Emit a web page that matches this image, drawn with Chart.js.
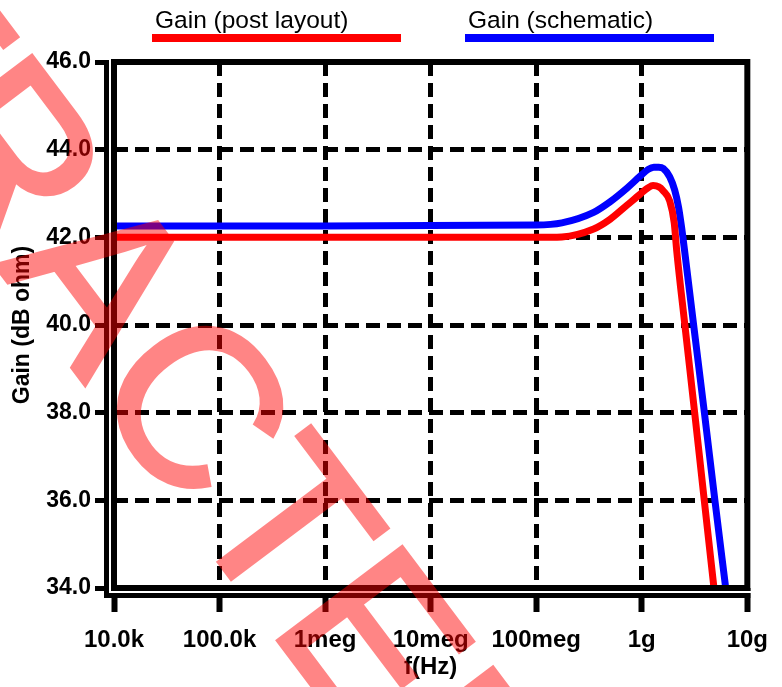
<!DOCTYPE html>
<html>
<head>
<meta charset="utf-8">
<title>Gain vs frequency</title>
<script src="https://cdn.jsdelivr.net/npm/chart.js@4.4.0/dist/chart.umd.min.js"></script>
<style>
  html, body { margin: 0; padding: 0; background: #fff; }
  #wrap { width: 782px; height: 687px; }
</style>
</head>
<body>
<div id="wrap"><canvas id="c" width="782" height="687"></canvas></div>
<script>
const FONT = "'Liberation Sans', Arial, Helvetica, sans-serif";

// AC sweep: frequency (Hz) and transimpedance gain (dB ohm)
const freqPost  = [1e4, 1e6, 1e8, 1.75e8, 3.5e8, 5e8, 7.3e8, 9.7e8, 1.15e9, 1.28e9, 1.45e9, 1.585e9, 1.84e9, 2.03e9, 2.14e9, 2.56e9, 3.17e9, 3.91e9, 4.83e9];
const gainPost  = [42.0, 42.0, 42.0, 42.01, 42.19, 42.41, 42.74, 42.99, 43.13, 43.18, 43.15, 43.07, 42.83, 42.33, 41.71, 40.0, 38.0, 36.0, 34.0];
const freqSchem = [1e4, 1e6, 1e8, 1.75e8, 3.5e8, 5e8, 7.3e8, 9.7e8, 1.15e9, 1.3e9, 1.45e9, 1.6e9, 1.84e9, 2.05e9, 2.23e9, 2.38e9, 2.54e9, 3.1e9, 3.92e9, 4.93e9, 6.24e9];
const gainSchem = [42.26, 42.26, 42.28, 42.33, 42.57, 42.81, 43.13, 43.40, 43.55, 43.6, 43.6, 43.57, 43.38, 43.08, 42.69, 42.24, 41.71, 40.0, 38.0, 36.0, 34.0];

// Axis ticks (decades, SPICE-style suffixes) and gain grid
const freqTicks  = [1e4, 1e5, 1e6, 1e7, 1e8, 1e9, 1e10];
const freqLabels = ['10.0k', '100.0k', '1meg', '10meg', '100meg', '1g', '10g'];
const gainTicks  = [34, 36, 38, 40, 42, 44, 46];

const seriesNames  = ['Gain (post layout)', 'Gain (schematic)'];
const seriesColors = ['#ff0000', '#0000ff'];
const axisTitleX = 'f(Hz)';
const axisTitleY = 'Gain (dB ohm)';
const stampText  = 'RETRACTED';

const toPoints = (fs, gs) => fs.map((f, i) => ({ x: f, y: gs[i] }));

// Heavy plot frame plus the separate outer axis rails
const framePlugin = {
  id: 'frame',
  afterDatasetsDraw(chart) {
    const { ctx, chartArea: a } = chart;
    ctx.save();
    ctx.fillStyle = '#fff';
    ctx.fillRect(a.left - 5, a.top - 3, 2, a.bottom - a.top + 12);
    ctx.fillRect(a.left - 5, a.bottom + 3, a.right - a.left + 12, 2);
    ctx.strokeStyle = '#000';
    ctx.lineWidth = 6;
    ctx.strokeRect(a.left, a.top, a.right - a.left, a.bottom - a.top);
    ctx.lineWidth = 5;
    ctx.beginPath();
    ctx.moveTo(a.left - 7.5, a.top);
    ctx.lineTo(a.left - 7.5, a.bottom + 10);
    ctx.moveTo(a.left - 10, a.bottom + 7.5);
    ctx.lineTo(a.right + 3, a.bottom + 7.5);
    ctx.stroke();
    ctx.restore();
  }
};

// Legend: label text with a thick coloured bar beneath it
const legendPlugin = {
  id: 'barLegend',
  afterDraw(chart) {
    const { ctx } = chart;
    const starts = [152, 465];
    const barLen = 249;
    ctx.save();
    chart.data.datasets.forEach((ds, i) => {
      ctx.font = `24.5px ${FONT}`;
      ctx.fillStyle = '#000';
      ctx.textAlign = 'left';
      ctx.textBaseline = 'alphabetic';
      ctx.fillText(ds.label, starts[i] + 3, 28);
      ctx.strokeStyle = ds.borderColor;
      ctx.lineWidth = 8;
      ctx.beginPath();
      ctx.moveTo(starts[i], 38);
      ctx.lineTo(starts[i] + barLen, 38);
      ctx.stroke();
    });
    ctx.restore();
  }
};

// Diagonal translucent stamp across the figure (rendered opaque off-screen, then blended once)
const stampPlugin = {
  id: 'stamp',
  afterDraw(chart) {
    const { ctx, width, height } = chart;
    const off = document.createElement('canvas');
    off.width = width;
    off.height = height;
    const o = off.getContext('2d');
    o.translate(40, 325);
    o.rotate(53 * Math.PI / 180);
    o.font = `226px ${FONT}`;
    o.fillStyle = '#ff0000';
    o.strokeStyle = '#ff0000';
    o.lineWidth = 4;
    o.lineJoin = 'miter';
    o.textAlign = 'center';
    o.textBaseline = 'alphabetic';
    o.fillText(stampText, 0, 0);
    o.strokeText(stampText, 0, 0);
    ctx.save();
    ctx.globalAlpha = 0.48;
    ctx.drawImage(off, 0, 0);
    ctx.restore();
  }
};

const gridCommon = { color: '#000', lineWidth: 5, drawOnChartArea: true, drawTicks: true, tickColor: '#000' };

new Chart(document.getElementById('c'), {
  type: 'line',
  data: {
    datasets: [
      { label: seriesNames[0], data: toPoints(freqPost, gainPost), borderColor: seriesColors[0] },
      { label: seriesNames[1], data: toPoints(freqSchem, gainSchem), borderColor: seriesColors[1] }
    ]
  },
  options: {
    responsive: false,
    animation: false,
    devicePixelRatio: 1,
    events: [],
    layout: { padding: { top: 62, right: 23, bottom: 0, left: 0 } },
    elements: {
      line: { borderWidth: 7, fill: false, cubicInterpolationMode: 'monotone', borderCapStyle: 'butt' },
      point: { radius: 0 }
    },
    plugins: { legend: { display: false }, tooltip: { enabled: false }, title: { display: false } },
    scales: {
      x: {
        type: 'logarithmic',
        min: 1e4, max: 1e10,
        afterBuildTicks: s => { s.ticks = freqTicks.map(v => ({ value: v })); },
        afterFit: s => { s.height = 99; },
        grid: { ...gridCommon, tickLength: 24, tickWidth: 6 },
        border: { display: false, dash: [14, 7] },
        ticks: {
          callback: (v, i) => freqLabels[i],
          font: { family: FONT, size: 24, weight: 'bold' },
          color: '#000', padding: 14, maxRotation: 0, autoSkip: false
        },
        title: {
          display: true, text: axisTitleX, color: '#000',
          font: { family: FONT, size: 24, weight: 'bold' },
          padding: { top: 0, bottom: 5 }
        }
      },
      y: {
        type: 'linear',
        min: 34, max: 46,
        afterBuildTicks: s => { s.ticks = gainTicks.map(v => ({ value: v })); },
        afterFit: s => { s.width = 114; },
        grid: { ...gridCommon, tickLength: 19, tickWidth: 5 },
        border: { display: false, dash: [14, 7] },
        ticks: {
          callback: v => Number(v).toFixed(1),
          font: { family: FONT, size: 23, weight: 'bold' },
          color: '#000', padding: 4
        },
        title: {
          display: true, text: axisTitleY, color: '#000',
          font: { family: FONT, size: 23, weight: 'bold' },
          padding: { top: 9, bottom: 0 }
        }
      }
    }
  },
  plugins: [framePlugin, legendPlugin, stampPlugin]
});
</script>
</body>
</html>
